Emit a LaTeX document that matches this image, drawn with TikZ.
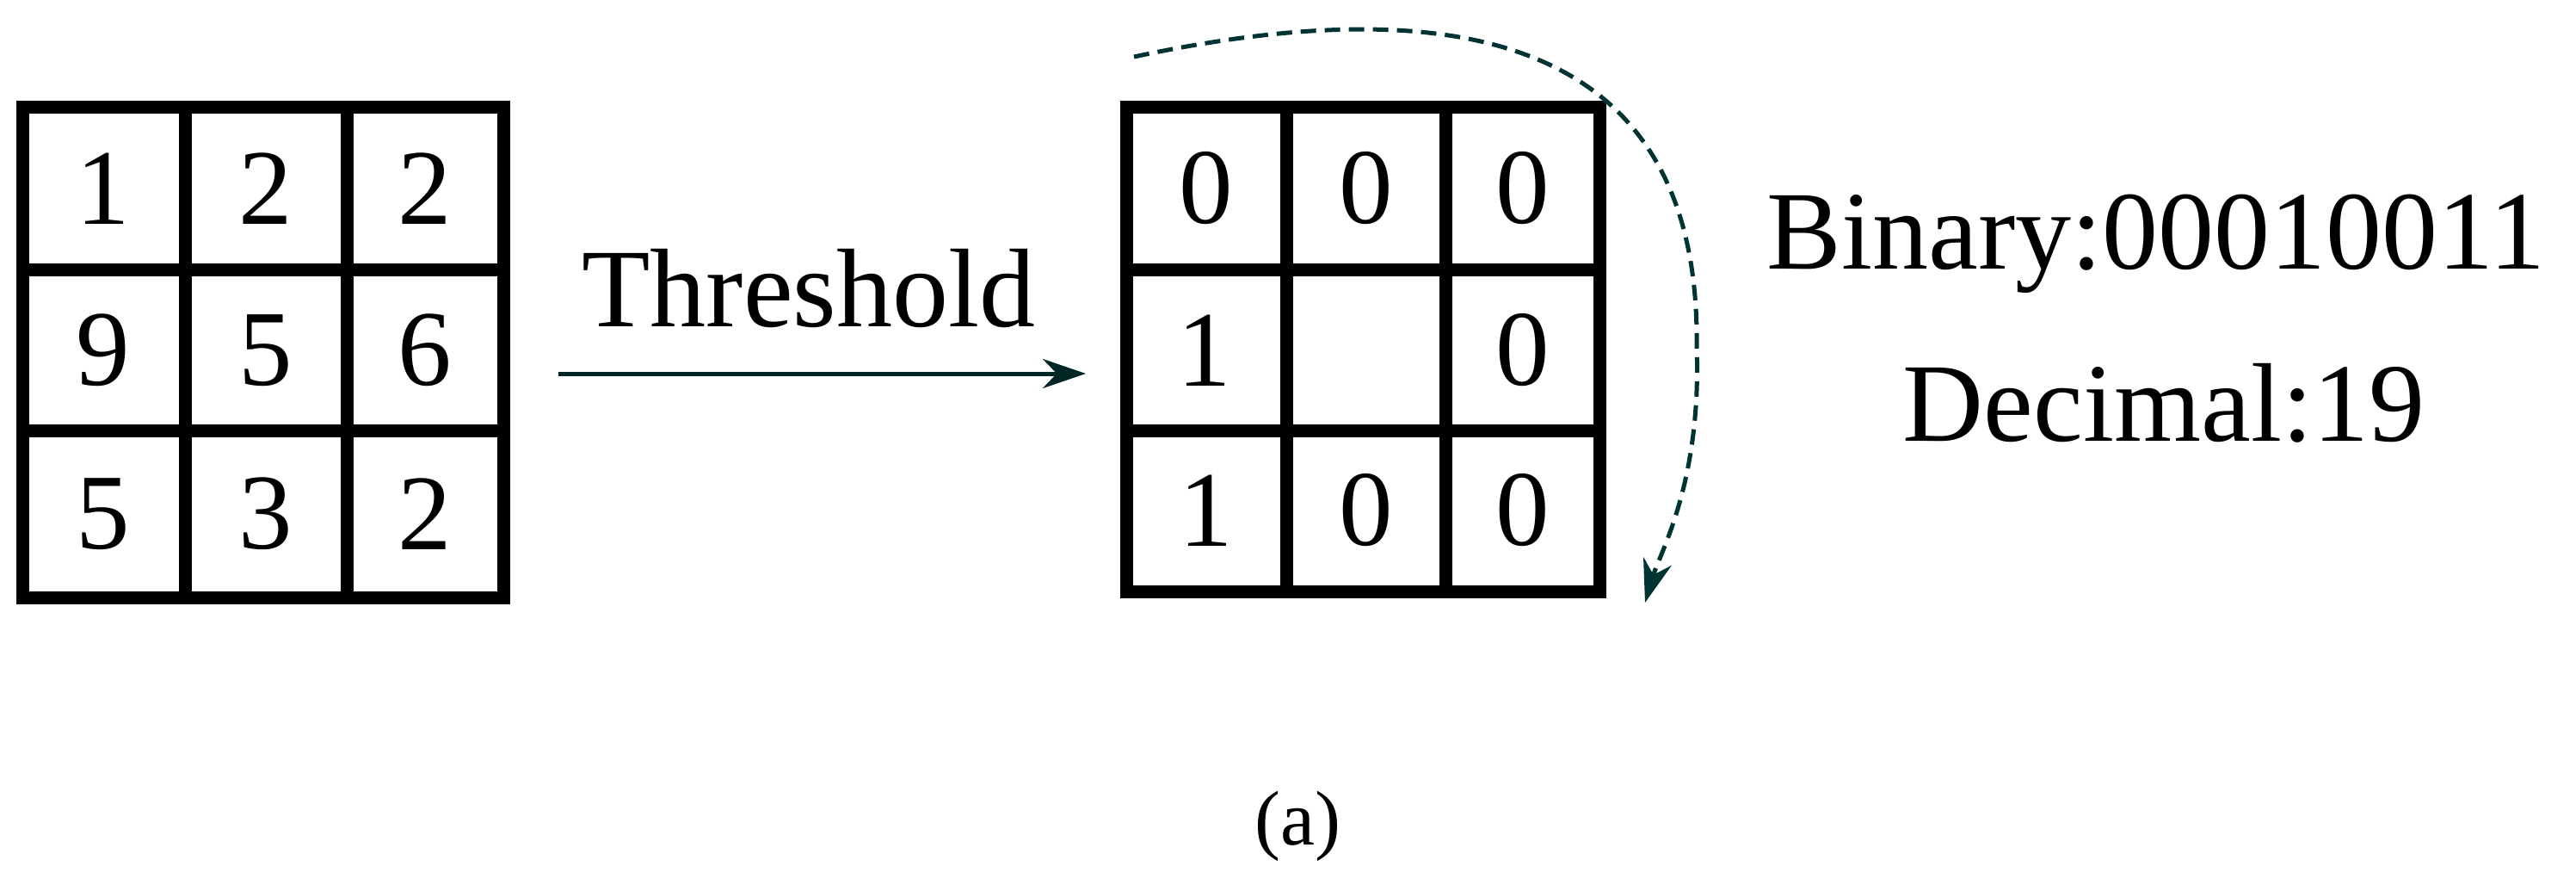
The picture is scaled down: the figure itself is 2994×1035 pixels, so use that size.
\documentclass[tikz,border=0pt]{standalone}
\usepackage{fontspec}
\setmainfont{Liberation Serif}
\usetikzlibrary{arrows.meta}
\begin{document}
\begin{tikzpicture}[x=1pt,y=-1pt,
  gridline/.style={line width=15pt,line cap=rect},
  num/.style={font=\fontsize{125}{125}\selectfont,inner sep=0pt},
  lbl/.style={font=\fontsize{130}{130}\selectfont,inner sep=0pt},
  conn/.style={line width=5pt,draw=black!70!teal,-{Stealth[length=50pt,width=34pt]}}]
\useasboundingbox (0,0) rectangle (2994,1035);
% left grid
\foreach \x in {26,215,403,585} \draw[gridline] (\x,125) -- (\x,694);
\foreach \y in {125,313,500,694} \draw[gridline] (26,\y) -- (585,\y);
\node[num] (l11) at (120,219) {1};
\node[num] (l12) at (309,219) {2};
\node[num] (l13) at (494,219) {2};
\node[num] (l21) at (120,407) {9};
\node[num] (l22) at (309,407) {5};
\node[num] (l23) at (494,407) {6};
\node[num] (l31) at (120,597) {5};
\node[num] (l32) at (309,597) {3};
\node[num] (l33) at (494,597) {2};
% right grid
\foreach \x in {1309,1495,1680,1859} \draw[gridline] (\x,125) -- (\x,687);
\foreach \y in {125,313,500,687} \draw[gridline] (1309,\y) -- (1859,\y);
\node[num] (r11) at (1402,219) {0};
\node[num] (r12) at (1588,219) {0};
\node[num] (r13) at (1770,219) {0};
\node[num] (r21) at (1400,407) {1};
\node[num] (r23) at (1770,407) {0};
\node[num] (r31) at (1402,593) {1};
\node[num] (r33) at (1588,593) {0};
\node[num] (r34) at (1770,593) {0};
% arrow
\coordinate (a0) at (649,434);
\coordinate (a1) at (1262,434);
\draw[conn] (a0) -- (a1);
\node[lbl] (thr) at (940,335) {Threshold};
% dashed arc
\coordinate (d0) at (1318,66);
\coordinate (dm) at (1972,400);
\coordinate (d1) at (1912,700);
\draw[line width=5pt,draw=black!60!teal,dash pattern=on 18pt off 10pt,-{Stealth[length=50pt,width=34pt]}]
  (d0) .. controls (1720,-20) and (1975,60) .. (dm) .. controls (1978,560) and (1930,640) .. (d1);
\node[lbl] (bin) at (2506,283) {Binary:00010011};
\node[lbl] (dec) at (2515,468) {Decimal:19};
\node[font=\fontsize{90}{90}\selectfont,inner sep=0pt] (cap) at (1508,960) {(a)};
\end{tikzpicture}
\end{document}
